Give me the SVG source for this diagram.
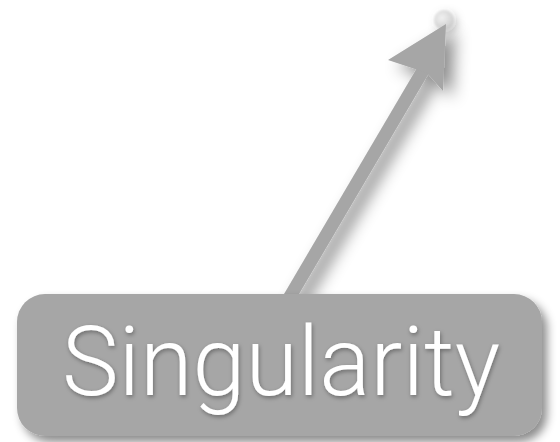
<svg xmlns="http://www.w3.org/2000/svg" width="560" height="442" viewBox="0 0 560 442">
<style>
.box{fill:#a6a6a6}
.lbl{font-family:Roboto,"Liberation Sans",sans-serif;font-weight:300;font-size:96px;fill:#ffffff}
.edge{stroke:#a6a6a6;stroke-width:13;fill:none}
.head{fill:#a6a6a6}
</style>
<defs>
<filter id="sh" x="-20%" y="-20%" width="140%" height="150%">
<feDropShadow dx="5" dy="6" stdDeviation="5" flood-color="#000" flood-opacity="0.45"/>
</filter>
<filter id="tsh" x="-10%" y="-20%" width="120%" height="140%">
<feDropShadow dx="1" dy="2" stdDeviation="2" flood-color="#000" flood-opacity="0.35"/>
</filter>
<filter id="esh" x="-40%" y="-40%" width="180%" height="180%">
<feDropShadow dx="9" dy="7" stdDeviation="8" flood-color="#000" flood-opacity="0.45"/>
</filter>
<filter id="dsh" x="-100%" y="-100%" width="300%" height="300%">
<feGaussianBlur stdDeviation="1"/>
<feDropShadow dx="3" dy="3" stdDeviation="4" flood-color="#000" flood-opacity="0.25"/>
</filter>
<radialGradient id="dot" cx="0.4" cy="0.4" r="0.6">
<stop offset="0" stop-color="#f0f0f0"/>
<stop offset="1" stop-color="#d2d2d2"/>
</radialGradient>
</defs>
<g id="end-point">
<circle cx="444" cy="20" r="10" fill="url(#dot)" filter="url(#dsh)"/>
</g>
<g id="connectors" filter="url(#esh)">
<line class="edge" x1="288" y1="300" x2="428" y2="62"/>
<polygon class="head" points="446,24 388,60 427,73 443,91"/>
</g>
<g id="singularity">
<rect class="box" x="17" y="294" width="525" height="142" rx="28" ry="28" filter="url(#sh)"/>
<text class="lbl" x="281" y="395" text-anchor="middle" textLength="438" lengthAdjust="spacingAndGlyphs" filter="url(#tsh)">Singularity</text>
</g>
</svg>
